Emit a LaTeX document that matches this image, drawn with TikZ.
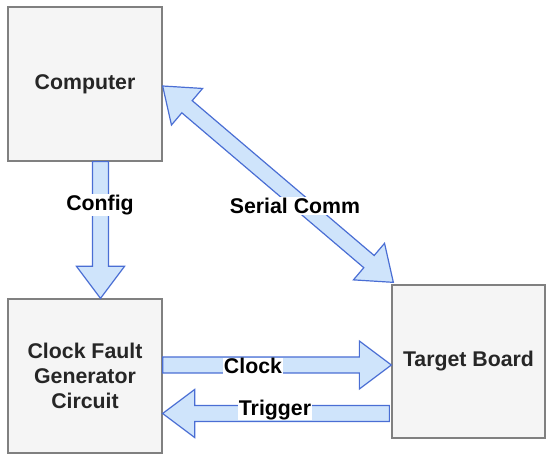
\documentclass[tikz,border=0pt]{standalone}
\usepackage{fontspec}
\setmainfont{Liberation Sans}
\usetikzlibrary{calc}
\definecolor{boxfill}{HTML}{F5F5F5}
\definecolor{boxline}{HTML}{808080}
\definecolor{arrfill}{HTML}{CFE4FB}
\definecolor{arrline}{HTML}{4A6ED4}
\tikzset{
  blk/.style={draw=boxline, fill=boxfill, line width=1.3pt, minimum width=154pt, minimum height=154pt, inner sep=0pt, align=center, font=\fontsize{21.3}{25}\selectfont\bfseries, text=black!85},
  barr/.style={draw=arrline, fill=arrfill, line width=1.2pt, line join=miter},
  lbl/.style={fill=white, inner sep=1pt, font=\fontsize{21.3}{25}\selectfont\bfseries}
}
\newcommand\blockarrow[2]{%
  \coordinate (hh) at ($(#2)!32pt!(#1)$);
  \draw[barr] ($(#1)!8pt!90:(#2)$) -- ($(hh)!8pt!-90:(#1)$) -- ($(hh)!24pt!-90:(#1)$) -- (#2)
    -- ($(hh)!24pt!90:(#1)$) -- ($(hh)!8pt!90:(#1)$) -- ($(#1)!8pt!-90:(#2)$) -- cycle;}
\newcommand\dblockarrow[2]{%
  \coordinate (ha) at ($(#1)!32pt!(#2)$);
  \coordinate (hb) at ($(#2)!32pt!(#1)$);
  \draw[barr] (#1) -- ($(ha)!24pt!90:(#2)$) -- ($(ha)!8pt!90:(#2)$) -- ($(hb)!8pt!-90:(#1)$)
    -- ($(hb)!24pt!-90:(#1)$) -- (#2) -- ($(hb)!24pt!90:(#1)$) -- ($(hb)!8pt!90:(#1)$)
    -- ($(ha)!8pt!-90:(#2)$) -- ($(ha)!24pt!-90:(#2)$) -- cycle;}
\begin{document}
\begin{tikzpicture}[x=1pt,y=1pt]
\useasboundingbox (0,0) rectangle (550,470);
\node[blk] (comp) at (85,386) {Computer};
\node[blk] (cfg) at (85,94) {Clock Fault\\Generator\\Circuit};
\node[blk, minimum width=153pt, minimum height=153pt] (tgt) at (468.5,108.5) {Target Board};
% config arrow
\coordinate (c1) at ($(comp.south)+(15.5,0)$);
\coordinate (c2) at ($(cfg.north)+(15.5,0)$);
\blockarrow{c1}{c2}
\node[lbl] (lcfg) at (100,265) {Config};
% serial comm
\coordinate (s1) at ($(comp.east)+(0,-2)$);
\coordinate (s2) at ($(tgt.north west)+(2,2)$);
\dblockarrow{s1}{s2}
\node[lbl] (lser) at (295,264) {Serial Comm};
% clock
\coordinate (k1) at (cfg.east |- 0,105);
\coordinate (k2) at (tgt.west |- 0,105);
\blockarrow{k1}{k2}
\node[lbl, inner ysep=0pt] (lclk) at (253,104) {Clock};
% trigger
\coordinate (t1) at ($(tgt.west |- 0,56.5)+(-2,0)$);
\coordinate (t2) at (cfg.east |- 0,56.5);
\blockarrow{t1}{t2}
\node[lbl, inner ysep=0pt] (ltrg) at (275,60) {Trigger};
\end{tikzpicture}
\end{document}
